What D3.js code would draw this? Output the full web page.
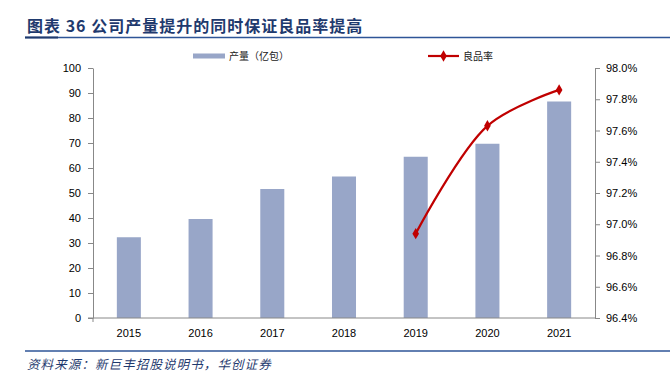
<!DOCTYPE html>
<html><head><meta charset="utf-8">
<script src="https://cdn.jsdelivr.net/npm/d3@7"></script>
<style>body{margin:0;background:#fff}svg{display:block}</style>
</head><body>
<svg id="c" width="670" height="385"></svg>
<script>
const years = ["2015","2016","2017","2018","2019","2020","2021"];
const output = [32.3, 39.6, 51.6, 56.6, 64.5, 69.7, 86.6];
const yieldYears = ["2019","2020","2021"];
const yieldRate = [0.9694, 0.9763, 0.9786];
const leftTicks = [0,10,20,30,40,50,60,70,80,90,100];
const rightTicks = [0.964,0.966,0.968,0.970,0.972,0.974,0.976,0.978,0.980];
const titleText = "图表 36 公司产量提升的同时保证良品率提高";
const sourceText = "资料来源：新巨丰招股说明书，华创证券";
const legendBar = "产量（亿包）";
const legendLine = "良品率";

const svg = d3.select("#c");
const L = 93, R = 595, T = 68, B = 318;
const font = "'Liberation Sans', Arial, sans-serif";
const cjk = "'Noto Sans CJK SC', sans-serif";
const navy = "#1f3a6e";

// Title
svg.append("text").attr("x",27).attr("y",32).attr("font-family",cjk).attr("font-weight","bold")
  .attr("font-size",16).attr("letter-spacing",1).attr("fill",navy).text(titleText);
svg.append("line").attr("x1",25).attr("x2",670).attr("y1",37.5).attr("y2",37.5)
  .attr("stroke","#2e5597").attr("stroke-width",1.5);
svg.append("line").attr("x1",25).attr("x2",58).attr("y1",37.5).attr("y2",37.5)
  .attr("stroke",navy).attr("stroke-width",2);

// Footer
svg.append("line").attr("x1",25).attr("x2",670).attr("y1",351).attr("y2",351)
  .attr("stroke","#2e5597").attr("stroke-width",1.5);
svg.append("text").attr("x",27).attr("y",369).attr("font-family",cjk).attr("font-style","italic")
  .attr("font-size",12.5).attr("letter-spacing",1.1).attr("fill",navy).text(sourceText);

const x = d3.scaleBand().domain(years).range([L,R]).paddingInner(0.665).paddingOuter(0.3325);
const y = d3.scaleLinear().domain([0,100]).range([B,T]);
const y2 = d3.scaleLinear().domain([0.964,0.980]).range([B,T]);

// bars
svg.append("g").selectAll("rect").data(years).join("rect")
  .attr("x",d=>x(d)).attr("width",x.bandwidth())
  .attr("y",(d,i)=>y(output[i])).attr("height",(d,i)=>B-y(output[i]))
  .attr("fill","#98a6c8");

// axes
const gl = svg.append("g").attr("transform",`translate(${L},0)`)
  .call(d3.axisLeft(y).tickValues(leftTicks).tickSize(5).tickSizeOuter(0).tickPadding(7));
const gr = svg.append("g").attr("transform",`translate(${R},0)`)
  .call(d3.axisRight(y2).tickValues(rightTicks).tickFormat(d3.format(".1%")).tickSize(5).tickSizeOuter(0).tickPadding(6));
const gb = svg.append("g").attr("transform",`translate(0,${B})`)
  .call(d3.axisBottom(x).tickSize(0).tickPadding(11));
gb.select(".domain").attr("d",`M${L-5},0H${R}`);
svg.append("line").attr("x1",L).attr("x2",L).attr("y1",B).attr("y2",B+4).attr("stroke","#888");
[gl,gr,gb].forEach(g=>{
  g.selectAll(".domain").attr("stroke","#888");
  g.selectAll(".tick line").attr("stroke","#888");
  g.selectAll("text").attr("font-family",font).attr("font-size",11).attr("fill","#000");
});

// line
const pts = yieldYears.map((d,i)=>[x(d)+x.bandwidth()/2, y2(yieldRate[i])]);
svg.append("path").attr("d",d3.line().curve(d3.curveCatmullRom.alpha(0.5))(pts))
  .attr("fill","none").attr("stroke","#c00000").attr("stroke-width",2.2);
const diamond = d3.symbol().type(d3.symbolDiamond).size(38);
svg.append("g").selectAll("path").data(pts).join("path")
  .attr("transform",d=>`translate(${d[0]},${d[1]})`).attr("d",diamond).attr("fill","#c00000");

// legend
svg.append("rect").attr("x",193).attr("y",53.5).attr("width",32).attr("height",5).attr("fill","#98a6c8");
svg.append("text").attr("x",229).attr("y",60).attr("font-family",cjk).attr("font-size",10).attr("fill","#222").text(legendBar);
svg.append("line").attr("x1",428).attr("x2",459).attr("y1",56).attr("y2",56).attr("stroke","#c00000").attr("stroke-width",2.2);
svg.append("path").attr("transform","translate(443.5,56)").attr("d",diamond).attr("fill","#c00000");
svg.append("text").attr("x",463).attr("y",60).attr("font-family",cjk).attr("font-size",10).attr("fill","#222").text(legendLine);
</script>
</body></html>
